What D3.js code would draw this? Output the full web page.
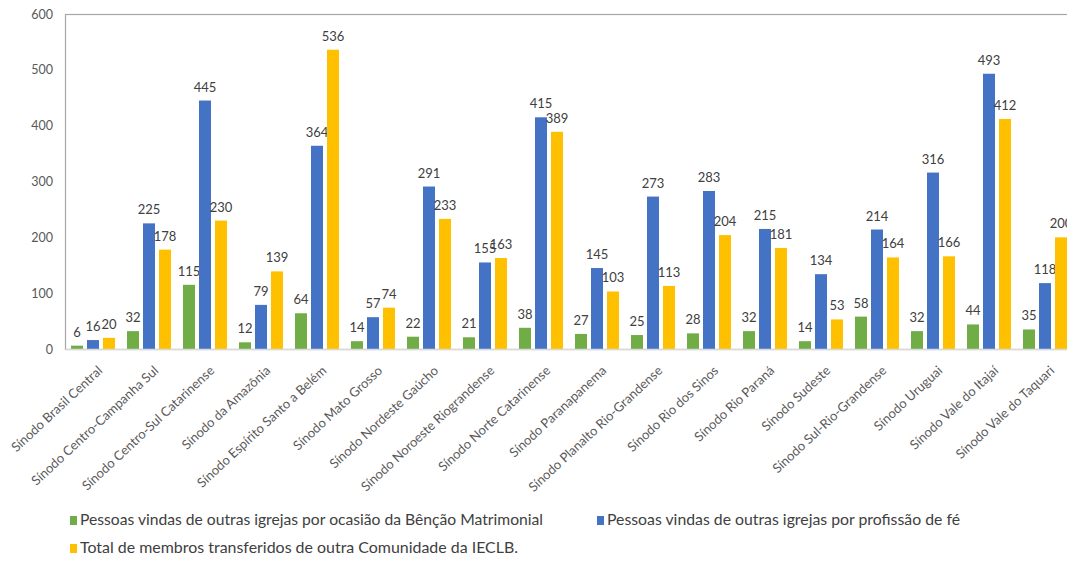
<!DOCTYPE html>
<html><head><meta charset="utf-8">
<script src="https://cdn.jsdelivr.net/npm/d3@7"></script>
<style>
html,body{margin:0;padding:0;background:#fff;overflow:hidden}
text{font-family:Lato,"Open Sans",sans-serif}
</style></head>
<body><svg id="chart" width="1067" height="565"></svg>
<script>
const categories = ["Sínodo Brasil Central","Sínodo Centro-Campanha Sul","Sínodo Centro-Sul Catarinense","Sínodo da Amazônia","Sínodo Espírito Santo a Belém","Sínodo Mato Grosso","Sínodo Nordeste Gaúcho","Sínodo Noroeste Riograndense","Sínodo Norte Catarinense","Sínodo Paranapanema","Sínodo Planalto Rio-Grandense","Sínodo Rio dos Sinos","Sínodo Rio Paraná","Sínodo Sudeste","Sínodo Sul-Rio-Grandense","Sínodo Uruguai","Sínodo Vale do Itajaí","Sínodo Vale do Taquari"];
const seriesNames = ["Pessoas vindas de outras igrejas por ocasião da Bênção Matrimonial","Pessoas vindas de outras igrejas por profissão de fé","Total de membros transferidos de outra Comunidade da IECLB."];
const matrimonial = [6,32,115,12,64,14,22,21,38,27,25,28,32,14,58,32,44,35];
const profissao   = [16,225,445,79,364,57,291,155,415,145,273,283,215,134,214,316,493,118];
const transferidos= [20,178,230,139,536,74,233,163,389,103,113,204,181,53,164,166,412,200];
const yTicks = [0,100,200,300,400,500,600];
const colors = ["#70AD47","#4472C4","#FFC000"];

(function(){
const series = [matrimonial, profissao, transferidos];
const svg = d3.select("#chart");
const mLeft = 65, mRight = 1073, mTop = 14, mBottom = 349;

const x0 = d3.scaleBand().domain(categories).range([mLeft, mRight]).paddingInner(0.214).paddingOuter(0.107);
const x1 = d3.scaleBand().domain([0,1,2]).range([0, x0.bandwidth()]).paddingInner(0.25).paddingOuter(0);
const y = d3.scaleLinear().domain([0,600]).range([mBottom, mTop]);

// frame
svg.append("rect").attr("x", mLeft+0.5).attr("y", mTop+0.5).attr("width", 1100).attr("height", mBottom-mTop)
  .attr("fill","none").attr("stroke","#a6a6a6").attr("stroke-width",1.2);

// y axis labels
const yAxis = d3.axisLeft(y).tickValues(yTicks).tickSize(0).tickPadding(12);
const ya = svg.append("g").attr("transform",`translate(${mLeft},0)`).call(yAxis);
ya.select(".domain").remove();
ya.selectAll("text").attr("fill","#595959").style("font-size","12.5px").style("font-family","Lato");

// bars
const groups = svg.append("g").selectAll("g").data(categories).join("g")
  .attr("transform", d => `translate(${x0(d)},0)`);
groups.each(function(cat, i){
  const g = d3.select(this);
  series.forEach((s, k) => {
    g.append("rect").attr("x", x1(k)).attr("y", y(s[i])).attr("width", x1.bandwidth())
      .attr("height", y(0)-y(s[i])).attr("fill", colors[k]);
    g.append("text").attr("x", x1(k)+x1.bandwidth()/2).attr("y", y(s[i])-9)
      .attr("text-anchor","middle").attr("fill","#404040").style("font-size","13px").text(s[i]);
  });
});

// bottom axis
const xAxis = d3.axisBottom(x0).tickSize(0).tickPadding(0);
const xa = svg.append("g").attr("transform",`translate(0,${mBottom})`).call(xAxis);
xa.select(".domain").attr("stroke","#d9d9d9").attr("stroke-width",1.5);
xa.selectAll("text").attr("fill","#595959").style("font-size","13px").style("font-family","Lato")
  .attr("text-anchor","end").attr("dy","0.7em").attr("y",0)
  .attr("transform","translate(4,16) rotate(-43)");

// legend
const leg = [
  {k:0, x:70, y:521, w:463},
  {k:1, x:597, y:521, w:353},
  {k:2, x:70, y:549, w:438}
];
leg.forEach(l => {
  svg.append("rect").attr("x", l.x).attr("y", l.y-5).attr("width",7).attr("height",9).attr("fill", colors[l.k]);
  svg.append("text").attr("x", l.x+10).attr("y", l.y+4).attr("fill","#404040").style("font-size","15px")
    .attr("textLength", l.w).attr("lengthAdjust","spacingAndGlyphs").text(seriesNames[l.k]);
});
})();
</script></body></html>
